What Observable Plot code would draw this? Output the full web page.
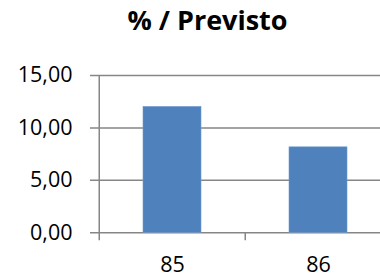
<!DOCTYPE html>
<html>
<head>
<meta charset="utf-8">
<script src="https://cdn.jsdelivr.net/npm/d3@7"></script>
<script src="https://cdn.jsdelivr.net/npm/@observablehq/plot@0.6"></script>
<style>
  html, body { margin: 0; padding: 0; background: #fff; }
  #wrap { position: relative; width: 380px; height: 277px; overflow: hidden; font-family: "Open Sans", sans-serif; }
  #title { position: absolute; left: 0; top: 6px; width: 415px; text-align: center; font-weight: bold; font-size: 27px; line-height: 27px; color: #000; }
  #chart { position: absolute; left: 0; top: 45px; }
</style>
</head>
<body>
<div id="wrap">
  <div id="title">% / Previsto</div>
  <div id="chart"></div>
</div>
<script>
const categories = ["85", "86"];
const values = [12.0, 8.15];
const yTicks = [0, 5, 10, 15];

const data = categories.map((c, i) => ({cat: c, value: values[i]}));
const fmt = d => d.toFixed(2).replace(".", ",");
const gridColor = "#868686";
const step = (391.5 - 98.5) / 2;

const plot = Plot.plot({
  width: 380,
  height: 232,
  marginLeft: 90,
  marginRight: 0,
  marginTop: 30,
  marginBottom: 44.7,
  style: { fontFamily: "Open Sans, sans-serif", fontSize: "21.5px", color: "#000", background: "#fff" },
  x: { domain: categories, range: [98.5, 391.5], paddingInner: 0.6, paddingOuter: 0.3, label: null },
  y: { domain: [0, 15], label: null },
  marks: [
    Plot.ruleY(yTicks, { stroke: gridColor, strokeWidth: 1.5 }),
    Plot.barY(data, { x: "cat", y: "value", fill: "#4F81BD", stroke: "#6f9bd0", strokeWidth: 0.6 }),
    // left axis line (at first category boundary), extending below the baseline
    Plot.ruleX([categories[0]], { x: d => d, dx: -step / 2, y1: 15, y2: 0, insetBottom: -8, stroke: gridColor, strokeWidth: 1.5 }),
    // category boundary tick marks
    Plot.ruleX(categories.slice(1), { x: d => d, dx: -step / 2, y1: 0, y2: 0, insetBottom: -8, stroke: gridColor, strokeWidth: 1.5 }),
    Plot.axisY(yTicks, { tickSize: 0, tickPadding: 18, tickFormat: fmt, fill: "#000" }),
    Plot.axisX({ tickSize: 0, tickPadding: 24, fill: "#000" })
  ]
});
document.getElementById("chart").appendChild(plot);
</script>
</body>
</html>
